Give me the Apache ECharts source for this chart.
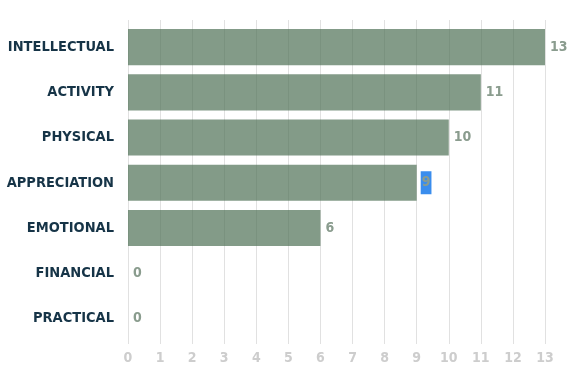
<!DOCTYPE html>
<html>
<head>
<meta charset="utf-8">
<script src="https://cdn.jsdelivr.net/npm/echarts@6/dist/echarts.min.js"></script>
<style>
html,body{margin:0;padding:0;background:#fff;}
#c{width:586px;height:390px;}
</style>
</head>
<body>
<div id="c"></div>
<script>
const categories = ["INTELLECTUAL","ACTIVITY","PHYSICAL","APPRECIATION","EMOTIONAL","FINANCIAL","PRACTICAL"];
const values = [13, 11, 10, 9, 6, 0, 0];
const xTicks = [0,1,2,3,4,5,6,7,8,9,10,11,12,13];
const highlightedCategory = "APPRECIATION";

const FONT = '"DejaVu Sans", sans-serif';
const WEIGHT = 'bold condensed';
const chart = echarts.init(document.getElementById('c'), null, {renderer:'canvas'});

const barData = values.map((v, i) => {
  const item = { value: v };
  if (categories[i] === highlightedCategory) {
    item.label = { backgroundColor: '#3a8ded', padding: [5, 1, 4, 1], distance: 4 };
  }
  return item;
});

chart.setOption({
  animation: false,
  grid: [
    { left: 128, right: 41, top: 20, bottom: 46, outerBoundsMode: 'none', containLabel: false },
    { left: 128, right: 41, top: 24.5, bottom: 49, outerBoundsMode: 'none', containLabel: false }
  ],
  xAxis: [
    {
      gridIndex: 0, type: 'value', min: xTicks[0], max: xTicks[xTicks.length-1], interval: 1,
      axisLine: { show: false },
      axisTick: { show: false },
      splitLine: { show: true, lineStyle: { color: '#e1e1e1', width: 1 } },
      axisLabel: { color: '#cdcdcd', fontFamily: FONT, fontWeight: WEIGHT, fontSize: 14, margin: 7 }
    },
    {
      gridIndex: 1, type: 'value', min: xTicks[0], max: xTicks[xTicks.length-1], interval: 1,
      show: false
    }
  ],
  yAxis: [
    {
      gridIndex: 0, type: 'category', data: categories, inverse: true, show: false
    },
    {
      gridIndex: 1, type: 'category', data: categories, inverse: true,
      axisLine: { show: false }, axisTick: { show: false },
      splitLine: { show: false },
      axisLabel: { color: '#163447', fontFamily: FONT, fontWeight: WEIGHT, fontSize: 14.5, margin: 14 }
    }
  ],
  series: [{
    type: 'bar',
    xAxisIndex: 1, yAxisIndex: 1,
    data: barData,
    barCategoryGap: '20%',
    itemStyle: { color: 'rgba(79,112,86,0.7)' },
    label: {
      show: true, position: 'right', distance: 5,
      color: '#8a9c8e', fontFamily: FONT, fontWeight: WEIGHT, fontSize: 14
    }
  }]
});
</script>
</body>
</html>
